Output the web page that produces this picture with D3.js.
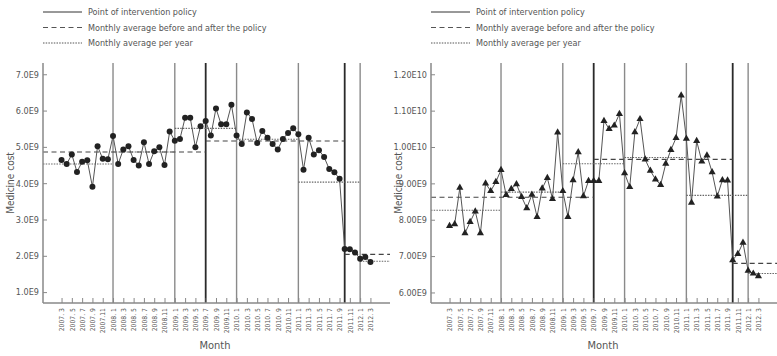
<!DOCTYPE html>
<html>
<head>
<meta charset="utf-8">
<script src="https://d3js.org/d3.v7.min.js"></script>
<style>
body{margin:0;background:#fff;}
text{font-family:"Liberation Sans Narrow","DejaVu Sans Condensed","Roboto Condensed",sans-serif;fill:#555;}
</style>
</head>
<body>
<svg width="777" height="356" id="mainsvg"></svg>
<script>
// months since 2007.3 for every odd month tick
const tickLabels=['2007. 3','2007. 5','2007. 7','2007. 9','2007.11',
 '2008. 1','2008. 3','2008. 5','2008. 7','2008. 9','2008.11',
 '2009. 1','2009. 3','2009. 5','2009. 7','2009. 9','2009.11',
 '2010. 1','2010. 3','2010. 5','2010. 7','2010. 9','2010.11',
 '2011. 1','2011. 3','2011. 5','2011. 7','2011. 9','2011.11',
 '2012. 1','2012. 3'];
const tickMonths=[0,2,4,6,8,10,12,14,16,18,20,22,24,26,28,30,32,34,36,38,40,42,44,46,48,50,52,54,56,58,60];

// monthly medicine cost, 2007.3 .. 2012.3 (unit E9)
const costLeft=[4.64,4.53,4.79,4.31,4.59,4.63,3.90,5.02,4.67,4.66,
 5.30,4.53,4.93,5.02,4.64,4.49,5.13,4.53,4.88,4.99,4.50,5.42,
 5.17,5.22,5.80,5.80,4.99,5.57,5.71,5.31,6.06,5.62,5.62,6.16,
 5.31,5.08,5.95,5.77,5.11,5.44,5.25,5.08,4.93,5.22,5.38,5.51,
 5.35,4.37,5.25,4.79,4.91,4.72,4.39,4.30,4.12,2.19,2.18,2.09,
 1.92,1.97,1.83];
const costRight=[7.83,7.88,8.88,7.63,7.94,8.23,7.63,9.00,8.79,9.04,
 9.37,8.68,8.85,8.98,8.63,8.32,8.69,8.08,8.86,9.15,8.57,10.40,
 8.79,8.08,9.09,9.86,8.65,9.07,9.07,9.07,10.72,10.50,10.59,10.91,
 9.28,8.90,10.41,10.77,9.66,9.35,9.11,8.96,9.54,9.92,10.25,11.42,
 10.23,8.47,10.17,9.60,9.77,9.31,8.64,9.09,9.08,6.89,7.06,7.37,
 6.60,6.52,6.45];

// year boundaries and policy points (month index)
const yearStarts=[10,22,34,46,58];
const policyMonths=[28,55];
// average segments: from / to month index (null = edge of plot)
const periodFrom=[null,28,55], periodTo=[28,55,null];
const periodLeft=[4.86,5.16,2.04], periodRight=[8.62,9.66,6.80];
const yearFrom=[null,10,22,34,46,58], yearTo=[10,22,34,46,58,null];
const yearLeft=[4.53,4.86,5.51,5.21,4.03,1.85], yearRight=[8.26,8.76,9.54,9.71,8.67,6.52];

const yTicksLeft=[1,2,3,4,5,6,7], yLabelsLeft=['1.0E9','2.0E9','3.0E9','4.0E9','5.0E9','6.0E9','7.0E9'];
const yTicksRight=[6,7,8,9,10,11,12], yLabelsRight=['6.00E9','7.00E9','8.00E9','9.00E9','1.00E10','1.10E10','1.20E10'];

const legendItems=['Point of intervention policy','Monthly average before and after the policy','Monthly average per year'];
const legendDash=[null,'5,3.5','1.5,1.2'];

const svg=d3.select('svg');
const plotTop=63,plotBottom=303;

function drawPanel(cfg){
  const g=svg.append('g');
  const x=d3.scaleLinear().domain([-3.6,63.8]).range([cfg.left,cfg.left+347]);
  const y=d3.scaleLinear().domain(cfg.yDomain).range([plotBottom,plotTop]);
  const x0=x.range()[0],x1=x.range()[1];

  // vertical reference lines
  g.selectAll('.yr').data(yearStarts).enter().append('line')
   .attr('x1',d=>x(d)).attr('x2',d=>x(d)).attr('y1',plotTop).attr('y2',plotBottom)
   .attr('stroke','#8a8a8a').attr('stroke-width',1.4);
  g.selectAll('.pol').data(policyMonths).enter().append('line')
   .attr('x1',d=>x(d)).attr('x2',d=>x(d)).attr('y1',plotTop).attr('y2',plotBottom)
   .attr('stroke','#2a2a2a').attr('stroke-width',1.8);

  // average lines
  g.selectAll('.pavg').data(cfg.period).enter().append('line')
   .attr('x1',(d,i)=>periodFrom[i]==null?x0:x(periodFrom[i]))
   .attr('x2',(d,i)=>periodTo[i]==null?x1:x(periodTo[i]))
   .attr('y1',d=>y(d)).attr('y2',d=>y(d))
   .attr('stroke','#444').attr('stroke-width',1.1).attr('stroke-dasharray',legendDash[1]);
  g.selectAll('.yavg').data(cfg.year).enter().append('line')
   .attr('x1',(d,i)=>yearFrom[i]==null?x0:x(yearFrom[i]))
   .attr('x2',(d,i)=>yearTo[i]==null?x1:x(yearTo[i]))
   .attr('y1',d=>y(d)).attr('y2',d=>y(d))
   .attr('stroke','#666').attr('stroke-width',1.1).attr('stroke-dasharray',legendDash[2]);

  // axes
  const yAxis=d3.axisLeft(y).tickValues(cfg.yTicks).tickSize(-4).tickPadding(4)
   .tickFormat((d,i)=>cfg.yLabels[i]);
  const ya=g.append('g').attr('transform',`translate(${x0},0)`).call(yAxis);
  ya.select('.domain').attr('d',`M0,${plotTop}V${plotBottom}`);
  const xAxis=d3.axisBottom(x).tickValues(tickMonths).tickSize(-5)
   .tickFormat((d,i)=>tickLabels[i]);
  const xa=g.append('g').attr('transform',`translate(0,${plotBottom})`).call(xAxis);
  xa.select('.domain').attr('d',`M${x0},0H${x1}`);
  [ya,xa].forEach(a=>{
    a.selectAll('.domain').attr('stroke','#888').attr('stroke-width',1.5);
    a.selectAll('.tick line').attr('stroke','#888').attr('stroke-width',1);
    a.selectAll('text').attr('fill','#666').style('font-family','"Liberation Sans Narrow","DejaVu Sans Condensed",sans-serif');
  });
  ya.selectAll('text').style('font-size','9px');
  xa.selectAll('text').style('font-size','6.8px').style('text-anchor','end')
   .attr('transform','rotate(-90)').attr('x',-5).attr('y',0).attr('dy','0.33em');

  // series
  const line=d3.line().x((d,i)=>x(i)).y(d=>y(d));
  g.append('path').datum(cfg.cost).attr('d',line).attr('fill','none')
   .attr('stroke','#555').attr('stroke-width',1);
  if(cfg.marker==='circle'){
    g.selectAll('.pt').data(cfg.cost).enter().append('circle')
     .attr('cx',(d,i)=>x(i)).attr('cy',d=>y(d)).attr('r',3).attr('fill','#222');
  }else{
    const sym=d3.symbol().type(d3.symbolTriangle).size(22);
    g.selectAll('.pt').data(cfg.cost).enter().append('path')
     .attr('d',sym).attr('transform',(d,i)=>`translate(${x(i)},${y(d)})`).attr('fill','#222');
  }

  // titles
  g.append('text').attr('transform',`translate(${cfg.left-29},183) rotate(-90)`)
   .attr('text-anchor','middle').style('font-size','10px').attr('fill','#666').text('Medicine cost');
  g.append('text').attr('x',cfg.left+172).attr('y',349).attr('text-anchor','middle')
   .style('font-size','11px').attr('fill','#666').text('Month');

  // legend
  const lg=g.selectAll('.lg').data(legendItems).enter().append('g')
   .attr('transform',(d,i)=>`translate(${cfg.left},${12+i*15.5})`);
  lg.append('line').attr('x1',0).attr('x2',39).attr('y1',0).attr('y2',0)
   .attr('stroke',(d,i)=>i==0?'#333':'#555').attr('stroke-width',1)
   .attr('stroke-dasharray',(d,i)=>legendDash[i]);
  lg.append('text').attr('x',45).attr('dy','0.35em').style('font-size','9px')
   .attr('fill','#444').text(d=>d);
}

drawPanel({left:43,yDomain:[0.7,7.31],yTicks:yTicksLeft,yLabels:yLabelsLeft,
  cost:costLeft,period:periodLeft,year:yearLeft,marker:'circle'});
drawPanel({left:431,yDomain:[5.71,12.31],yTicks:yTicksRight,yLabels:yLabelsRight,
  cost:costRight,period:periodRight,year:yearRight,marker:'triangle'});
</script>
</body>
</html>
